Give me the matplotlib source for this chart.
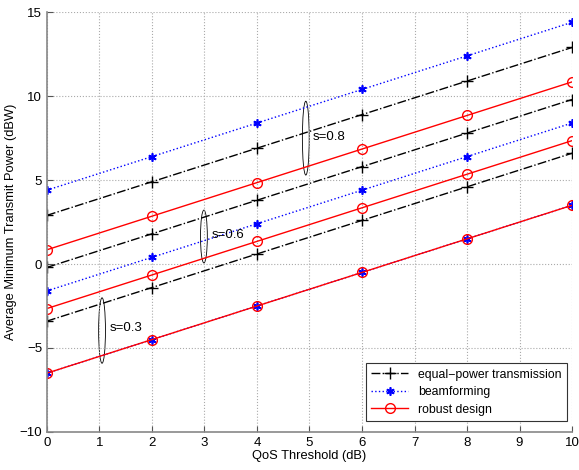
import matplotlib.pyplot as plt
from matplotlib.patches import Ellipse
import numpy as np

plt.rcParams['font.family'] = ['Liberation Sans', 'DejaVu Sans']

qos = [0, 2, 4, 6, 8, 10]

# s = 0.8
equal_08 = [2.9, 4.9, 6.9, 8.9, 10.9, 12.9]
beam_08 = [4.4, 6.4, 8.4, 10.4, 12.4, 14.4]
robust_08 = [0.85, 2.85, 4.85, 6.85, 8.85, 10.85]
# s = 0.6
equal_06 = [-0.2, 1.8, 3.8, 5.8, 7.8, 9.8]
beam_06 = [-1.6, 0.4, 2.4, 4.4, 6.4, 8.4]
robust_06 = [-2.65, -0.65, 1.35, 3.35, 5.35, 7.35]
# s = 0.3
equal_03 = [-3.4, -1.4, 0.6, 2.6, 4.6, 6.6]
beam_03 = [-6.5, -4.5, -2.5, -0.5, 1.5, 3.5]
robust_03 = [-6.5, -4.5, -2.5, -0.5, 1.5, 3.5]

fig = plt.figure(figsize=(5.79, 4.70), dpi=100)
ax = fig.add_axes([0.081, 0.081, 0.907, 0.893])

asterisk = (6, 2, 0)
for eq, bf, rb in [(equal_08, beam_08, robust_08),
                   (equal_06, beam_06, robust_06),
                   (equal_03, beam_03, robust_03)]:
    ax.plot(qos, eq, 'k-.', marker='+', ms=8, mew=1, lw=1)
    ax.plot(qos, bf, color='b', ls=':', marker=asterisk, ms=6, mew=1.2, lw=1)
    ax.plot(qos, rb, 'r-', marker='o', ms=7, mfc='none', mew=1, lw=1)

# legend proxies
h1, = ax.plot([], [], 'k-.', marker='+', ms=8, lw=1, label='equal\u2212power transmission')
h2, = ax.plot([], [], color='b', ls=':', marker=asterisk, ms=6, mew=1.2, lw=1, label='beamforming')
h3, = ax.plot([], [], 'r-', marker='o', ms=7, mfc='none', lw=1, label='robust design')
leg = ax.legend(handles=[h1, h2, h3], loc='lower right', fontsize=8.8, fancybox=False,
                edgecolor='#333333', framealpha=1, borderpad=0.45, labelspacing=0.45,
                handlelength=3.0, handletextpad=0.8, borderaxespad=0,
                bbox_to_anchor=(0.99, 0.026))
leg.get_frame().set_linewidth(0.8)

# ellipses with labels
for cx, cy, h, txt, tx, ty in [(4.93, 7.5, 4.4, 's=0.8', 5.07, 7.55),
                               (2.99, 1.64, 3.15, 's=0.6', 3.14, 1.73),
                               (1.05, -3.96, 3.9, 's=0.3', 1.2, -3.8)]:
    ax.add_patch(Ellipse((cx, cy), 0.13, h, fill=False, ec='black', lw=0.6))
    ax.text(tx, ty, txt, fontsize=9.5, va='center', ha='left')

ax.set_xlim(0, 10)
ax.set_ylim(-10, 15)
ax.set_xticks(range(0, 11))
ax.set_yticks(range(-10, 16, 5))
ax.grid(True, ls=':', color='#aaaaaa', lw=0.8)
ax.tick_params(direction='in', labelsize=9.5, length=4, color='#555555')
ax.spines['top'].set_visible(False)
ax.spines['right'].set_visible(False)
for sp in ['left', 'bottom']:
    ax.spines[sp].set_color('#888888')
    ax.spines[sp].set_linewidth(1.2)
ax.set_xlabel('QoS Threshold (dB)', fontsize=9.3, labelpad=1)
ax.set_ylabel('Average Minimum Transmit Power (dBW)', fontsize=9.3, labelpad=2)

fig.savefig('out.png', dpi=100)
